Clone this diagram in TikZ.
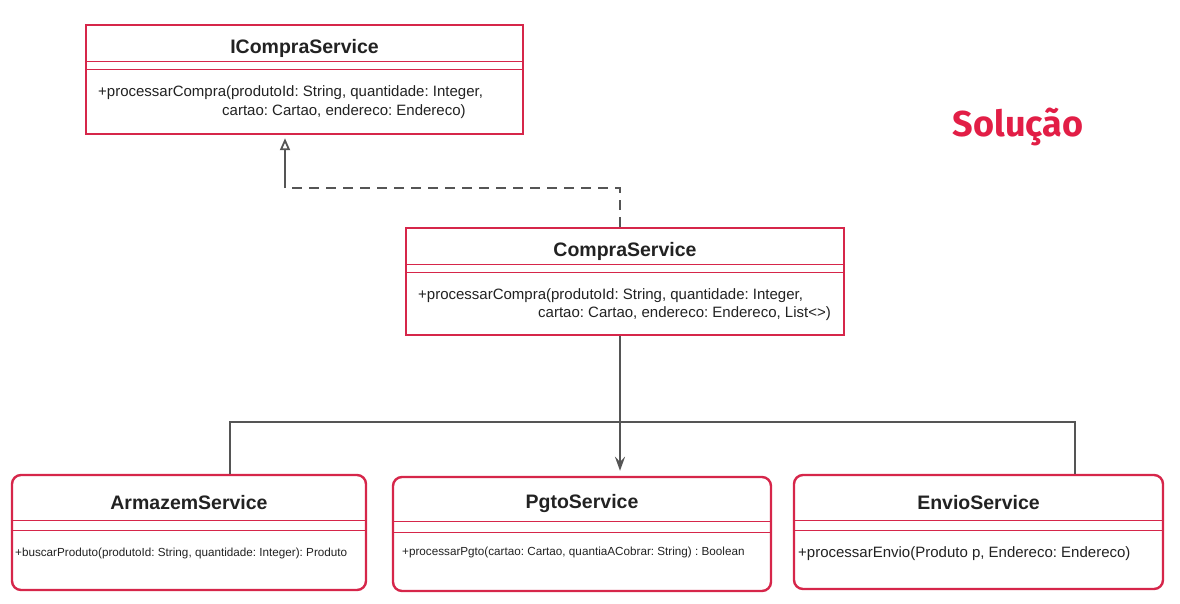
\documentclass[tikz,border=0pt]{standalone}
\usepackage{fontspec}
\setmainfont{Liberation Sans}
\newfontfamily\solfont{Fira Sans}
\usetikzlibrary{arrows.meta,positioning}
\definecolor{boxred}{RGB}{214,38,74}
\definecolor{solred}{RGB}{226,30,70}
\definecolor{linkgray}{RGB}{85,85,85}
\definecolor{txt}{RGB}{34,34,34}
\frenchspacing
\tikzset{
  classbox/.style={draw=boxred, line width=2.4pt, inner sep=0pt, fill=white},
  sepline/.style={draw=boxred, line width=1.3pt},
  title/.style={text=txt, inner sep=0pt, font=\fontsize{19.5}{23}\selectfont\bfseries},
  method/.style={text=txt, inner sep=0pt, anchor=west, font=\fontsize{15}{18}\selectfont},
  smallmethod/.style={text=txt, inner sep=0pt, anchor=west, font=\fontsize{11.7}{14}\selectfont},
  link/.style={draw=linkgray, line width=2.4pt},
  realize/.style={link, dash pattern=on 10pt off 7pt}
}
\begin{document}
\begin{tikzpicture}[x=1pt, y=-1pt]
  \useasboundingbox (0,0) rectangle (1180,603);
  % interface
  \node[classbox, minimum width=437pt, minimum height=109pt] (ics) at (304.5,79.5) {};
  \draw[sepline] ([yshift=-38pt]ics.north west) -- ([yshift=-38pt]ics.north east);
  \draw[sepline] ([yshift=-46pt]ics.north west) -- ([yshift=-46pt]ics.north east);
  \node[title] (icst) at (304.5,48) {ICompraService};
  \node[method] (icsm1) at (98,93) {+processarCompra(produtoId: String, quantidade: Integer,};
  \node[method] (icsm2) at (222,112) {cartao: Cartao, endereco: Endereco)};
  % implementation
  \node[classbox, minimum width=438pt, minimum height=107pt] (cs) at (625,281.5) {};
  \draw[sepline] ([yshift=-38pt]cs.north west) -- ([yshift=-38pt]cs.north east);
  \draw[sepline] ([yshift=-46pt]cs.north west) -- ([yshift=-46pt]cs.north east);
  \node[title] (cst) at (625,251) {CompraService};
  \node[method] (csm1) at (418,296) {+processarCompra(produtoId: String, quantidade: Integer,};
  \node[method] (csm2) at (538,314) {cartao: Cartao, endereco: Endereco, List<>)};
  % services
  \node[classbox, rounded corners=9pt, minimum width=354pt, minimum height=115pt] (arm) at (189,532.5) {};
  \draw[sepline] ([yshift=-47pt]arm.north west) -- ([yshift=-47pt]arm.north east);
  \draw[sepline] ([yshift=-57pt]arm.north west) -- ([yshift=-57pt]arm.north east);
  \node[title] (armt) at (189,503) {ArmazemService};
  \node[smallmethod] (armm) at (15,553) {+buscarProduto(produtoId: String, quantidade: Integer): Produto};
  \node[classbox, rounded corners=9pt, minimum width=378pt, minimum height=114pt] (pg) at (582,534) {};
  \draw[sepline] ([yshift=-46pt]pg.north west) -- ([yshift=-46pt]pg.north east);
  \draw[sepline] ([yshift=-57pt]pg.north west) -- ([yshift=-57pt]pg.north east);
  \node[title] (pgt) at (582,503) {PgtoService};
  \node[smallmethod] (pgm) at (402,552) {+processarPgto(cartao: Cartao, quantiaACobrar: String) : Boolean};
  \node[classbox, rounded corners=9pt, minimum width=369pt, minimum height=114pt] (env) at (978.5,532) {};
  \draw[sepline] ([yshift=-47pt]env.north west) -- ([yshift=-47pt]env.north east);
  \draw[sepline] ([yshift=-57pt]env.north west) -- ([yshift=-57pt]env.north east);
  \node[title] (envt) at (978.5,503) {EnvioService};
  \node[method] (envm) at (798,554) {+processarEnvio(Produto p, Endereco: Endereco)};
  % realization
  \coordinate (rbend) at (285,188);
  \draw[realize] ([xshift=-5pt]cs.north) |- (rbend);
  \draw[link, -{Triangle[open, width=10pt, length=12pt, line width=1.8pt]}] (rbend) -- ([yshift=-3pt]rbend |- ics.south);
  % dependencies
  \draw[link, -{Stealth[width=10pt, length=14pt, inset=5pt]}] ([xshift=-5pt]cs.south) -- ([shift={(38pt,5pt)}]pg.north);
  \coordinate (hleft) at (230,422);
  \coordinate (hright) at (1075,422);
  \draw[link] (arm.north -| hleft) -- (hleft) -- (hright) -- (env.north -| hright);
  % heading
  \node[text=solred, inner sep=0pt, font=\solfont\fontsize{36}{42}\selectfont\bfseries] (sol) at (1018,127) {Solução};
\end{tikzpicture}
\end{document}
